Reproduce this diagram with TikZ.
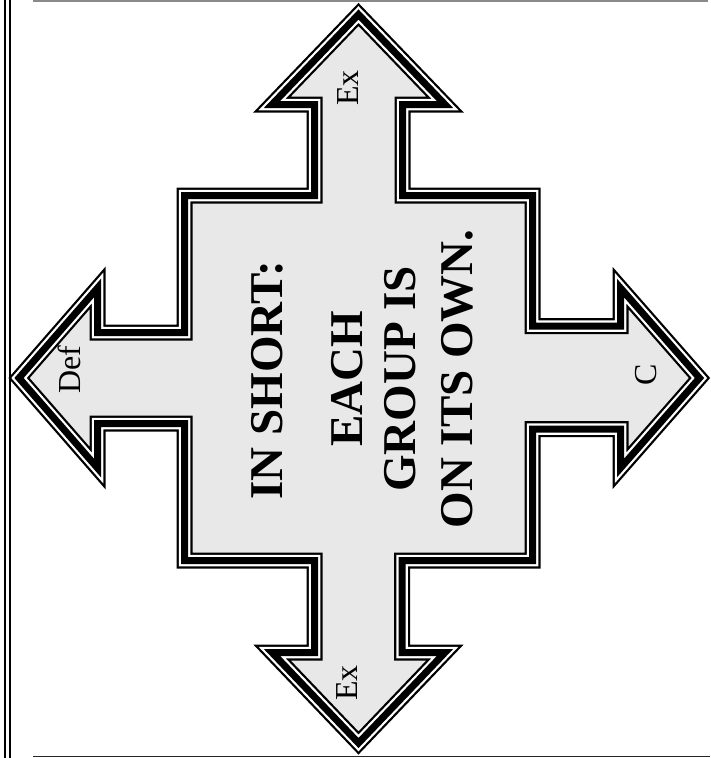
\documentclass[tikz,border=0pt]{standalone}
\usepackage{fontspec}
\setmainfont{Liberation Serif}
\definecolor{arrowfill}{HTML}{E8E8E8}
\definecolor{topline}{HTML}{8A8A8A}
\tikzset{
  outerstroke/.style={draw=black, line width=16pt, line join=miter, miter limit=20},
  gapstroke/.style={draw=white, line width=11.5pt, line join=miter, miter limit=20},
  corestroke/.style={draw=black, line width=7pt, line join=miter, miter limit=20},
  maintext/.style={font=\fontsize{47}{56}\selectfont\bfseries, inner sep=0pt, anchor=base, rotate=90},
  labeltext/.style={font=\fontsize{32}{38}\selectfont, inner sep=0pt, anchor=base, rotate=90},
  border/.style={line width=2.2pt, draw=black},
}
\begin{document}
\begin{tikzpicture}[x=1pt,y=-1pt]
\useasboundingbox (0,0) rectangle (710,758);
\fill[white] (0,0) rectangle (710,758);
% frame lines
\draw[border] (4.8,0) -- (4.8,758);
\draw[border] (10.3,0) -- (10.3,758);
\draw[draw=topline, line width=1.6pt] (33,0.8) -- (708,0.8);
\draw[draw=black!85, line width=1.8pt] (33,756.5) -- (710,756.5);
% four-way arrow
\path[fill=arrowfill, save path=\crossp]
  (358.5,14.5) -- (445,104.5) -- (402.5,104.5) -- (402.5,195.5)
  -- (532.5,195.5) -- (532.5,326) -- (620.5,326) -- (620.5,288)
  -- (699.5,378) -- (620.5,468) -- (620.5,429) -- (532.5,429)
  -- (532.5,560.5) -- (402,560.5) -- (402,652.5) -- (445,652.5)
  -- (358.5,743) -- (272,652.5) -- (314.5,652.5) -- (314.5,560.5)
  -- (184.5,560.5) -- (184.5,423.5) -- (97.5,423.5) -- (97.5,468)
  -- (19,378) -- (97.5,288) -- (97.5,332.5) -- (184.5,332.5)
  -- (184.5,195.5) -- (314.5,195.5) -- (314.5,104.5) -- (272,104.5)
  -- cycle;
\path[outerstroke, use path=\crossp];
\path[gapstroke, use path=\crossp];
\path[corestroke, use path=\crossp];
% texts
\node[maintext] (l1) at (282,380) {IN SHORT:};
\node[maintext] (l2) at (362,379) {EACH};
\node[maintext] (l3) at (415,379) {GROUP IS};
\node[maintext] (l4) at (472,379) {ON ITS OWN.};
\node[labeltext] (ex1) at (358,88) {Ex};
\node[labeltext] (ex2) at (357,683) {Ex};
\node[labeltext] (def) at (80,370) {Def};
\node[labeltext] (c) at (656,375) {C};
\end{tikzpicture}
\end{document}
